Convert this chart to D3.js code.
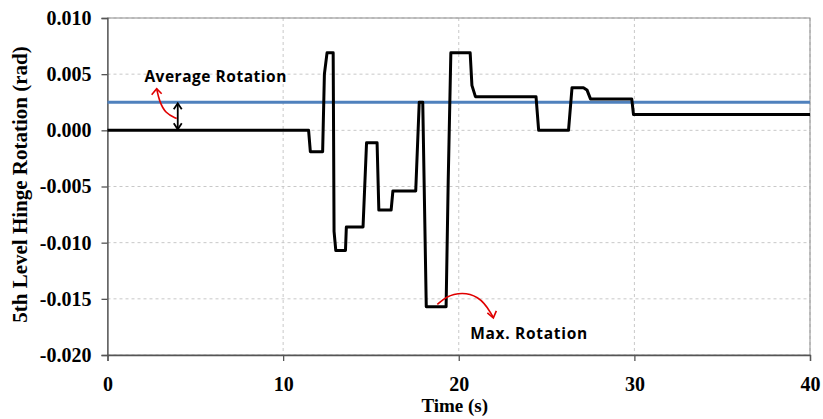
<!DOCTYPE html>
<html>
<head>
<meta charset="utf-8">
<script src="https://cdn.jsdelivr.net/npm/d3@7"></script>
<style>
  body { margin: 0; background: #fff; }
  svg { display: block; }
</style>
</head>
<body>
<svg id="chart" width="823" height="419"></svg>
<script>
// hinge rotation history (time in s, rotation in rad)
const times = [0, 11.45, 11.55, 12.25, 12.35, 12.5, 12.85, 12.9, 13.0, 13.55, 13.6, 14.55, 14.75, 15.35, 15.45, 16.15, 16.25, 17.55, 17.75, 17.95, 18.15, 19.28, 19.4, 19.55, 20.65, 20.75, 20.95, 24.4, 24.55, 26.25, 26.45, 26.6, 27.1, 27.3, 27.5, 29.85, 29.95, 40];
const rotations = [0, 0, -0.0019, -0.0019, 0.0050, 0.0069, 0.0069, -0.0090, -0.0107, -0.0107, -0.0086, -0.0086, -0.0011, -0.0011, -0.0071, -0.0071, -0.0054, -0.0054, 0.0025, 0.0025, -0.0157, -0.0157, -0.0045, 0.0069, 0.0069, 0.0040, 0.0030, 0.0030, 0.0000, 0.0000, 0.0038, 0.0038, 0.0038, 0.0036, 0.0028, 0.0028, 0.0014, 0.0014];
const averageRotation = 0.0025;

const xTicks = [0, 10, 20, 30, 40];
const yTicks = [0.010, 0.005, 0.000, -0.005, -0.010, -0.015, -0.020];

const svg = d3.select("#chart");
const margin = {top: 18, right: 13, bottom: 64, left: 107.5};
const width = +svg.attr("width");
const height = +svg.attr("height");
const innerWidth = width - margin.left - margin.right;
const innerHeight = height - margin.top - margin.bottom;

const x = d3.scaleLinear().domain([0, 40]).range([0, innerWidth]);
const y = d3.scaleLinear().domain([-0.020, 0.010]).range([innerHeight, 0]);

const serif = "'Liberation Serif', 'Times New Roman', serif";
const sans = "'Open Sans', 'Liberation Sans', Arial, sans-serif";

const chart = svg.append("g")
    .attr("transform", "translate(" + margin.left + "," + margin.top + ")");

// gridlines
chart.append("g")
    .selectAll("line")
    .data(yTicks)
    .enter().append("line")
    .attr("x1", 0).attr("x2", innerWidth)
    .attr("y1", d => y(d)).attr("y2", d => y(d))
    .attr("stroke", "#c8c8c8")
    .attr("stroke-dasharray", "3,3");

chart.append("g")
    .selectAll("line")
    .data(xTicks.slice(1))
    .enter().append("line")
    .attr("x1", d => x(d)).attr("x2", d => x(d))
    .attr("y1", 0).attr("y2", innerHeight)
    .attr("stroke", "#c8c8c8")
    .attr("stroke-dasharray", "3,3");

// plot area border
chart.append("rect")
    .attr("width", innerWidth)
    .attr("height", innerHeight)
    .attr("fill", "none")
    .attr("stroke", "#8c8c8c")
    .attr("stroke-width", 1);

// axes
const fmtY = d => d3.format(".3f")(d).replace("\u2212", "-");

const xAxis = chart.append("g")
    .attr("transform", "translate(0," + innerHeight + ")")
    .call(d3.axisBottom(x).tickValues(xTicks).tickSize(6).tickPadding(16).tickFormat(d3.format("d")));

const yAxis = chart.append("g")
    .call(d3.axisLeft(y).tickValues(yTicks).tickSize(6).tickPadding(10).tickFormat(fmtY));

[xAxis, yAxis].forEach(a => {
    a.attr("font-family", serif).attr("font-size", 20).attr("font-weight", "bold");
    a.select(".domain").attr("stroke", "#555").attr("stroke-width", 1.3);
    a.selectAll(".tick line").attr("stroke", "#555").attr("stroke-width", 1.3);
    a.selectAll(".tick text").attr("fill", "#000");
});

// average line
chart.append("line")
    .attr("x1", 0).attr("x2", innerWidth)
    .attr("y1", y(averageRotation)).attr("y2", y(averageRotation))
    .attr("stroke", "#4f81bd")
    .attr("stroke-width", 3);

// rotation history
const series = times.map((t, i) => ({t: t, v: rotations[i]}));
chart.append("path")
    .datum(series)
    .attr("fill", "none")
    .attr("stroke", "#000")
    .attr("stroke-width", 3)
    .attr("stroke-linejoin", "round")
    .attr("d", d3.line().x(d => x(d.t)).y(d => y(d.v)));

// double arrow between zero and average
const ax = x(4.0);
const ya = y(averageRotation), y0 = y(0);
chart.append("line")
    .attr("x1", ax).attr("x2", ax)
    .attr("y1", ya + 2).attr("y2", y0 - 2)
    .attr("stroke", "#000").attr("stroke-width", 1.8);
chart.append("path")
    .attr("d", "M" + (ax - 4) + "," + (ya + 7) + "L" + ax + "," + (ya + 1) + "L" + (ax + 4) + "," + (ya + 7) +
        "M" + (ax - 4) + "," + (y0 - 7) + "L" + ax + "," + (y0 - 1) + "L" + (ax + 4) + "," + (y0 - 7))
    .attr("fill", "none").attr("stroke", "#000").attr("stroke-width", 1.8);

// red arrow to average label
const avgCurve = [[3.94, 0.00105], [3.3, 0.0015], [2.95, 0.0026], [2.8, 0.0037]];
chart.append("path")
    .attr("d", d3.line().curve(d3.curveBasis).x(d => x(d[0])).y(d => y(d[1]))(avgCurve))
    .attr("fill", "none").attr("stroke", "#e00000").attr("stroke-width", 1.6);
const tipA = [x(2.8), y(0.0037)];
chart.append("path")
    .attr("d", "M" + (tipA[0] - 5) + "," + (tipA[1] + 6) + "L" + tipA[0] + "," + tipA[1] + "L" + (tipA[0] + 5) + "," + (tipA[1] + 5))
    .attr("fill", "none").attr("stroke", "#e00000").attr("stroke-width", 1.6);

chart.append("text")
    .attr("x", x(2.1))
    .attr("y", y(0.0043))
    .attr("textLength", 142)
    .attr("fill", "#000")
    .style("font-family", sans)
    .style("font-weight", "bold")
    .style("font-size", "15.5px")
    .text("Average Rotation");

// red arrow to max label
const maxCurve = [[18.78, -0.0155], [19.6, -0.0144], [21.2, -0.0146], [21.95, -0.0166]];
chart.append("path")
    .attr("d", d3.line().curve(d3.curveBasis).x(d => x(d[0])).y(d => y(d[1]))(maxCurve))
    .attr("fill", "none").attr("stroke", "#e00000").attr("stroke-width", 1.6);
const tipM = [x(21.97), y(-0.0167)];
chart.append("path")
    .attr("d", "M" + (tipM[0] - 6) + "," + (tipM[1] - 5) + "L" + tipM[0] + "," + tipM[1] + "L" + (tipM[0] + 3) + "," + (tipM[1] - 7))
    .attr("fill", "none").attr("stroke", "#e00000").attr("stroke-width", 1.6);

chart.append("text")
    .attr("x", x(20.65))
    .attr("y", y(-0.01855))
    .attr("textLength", 117)
    .attr("fill", "#000")
    .style("font-family", sans)
    .style("font-weight", "bold")
    .style("font-size", "15.5px")
    .text("Max. Rotation");

// axis titles
svg.append("text")
    .attr("x", margin.left + innerWidth * 0.5 - 4)
    .attr("y", 412)
    .attr("text-anchor", "middle")
    .attr("fill", "#000")
    .style("font-family", serif)
    .style("font-weight", "bold")
    .style("font-size", "19px")
    .text("Time (s)");

svg.append("text")
    .attr("transform", "translate(27," + (margin.top + innerHeight / 2 - 2) + ") rotate(-90)")
    .attr("text-anchor", "middle")
    .attr("fill", "#000")
    .style("font-family", serif)
    .style("font-weight", "bold")
    .style("font-size", "21px")
    .text("5th Level Hinge Rotation (rad)");
</script>
</body>
</html>
